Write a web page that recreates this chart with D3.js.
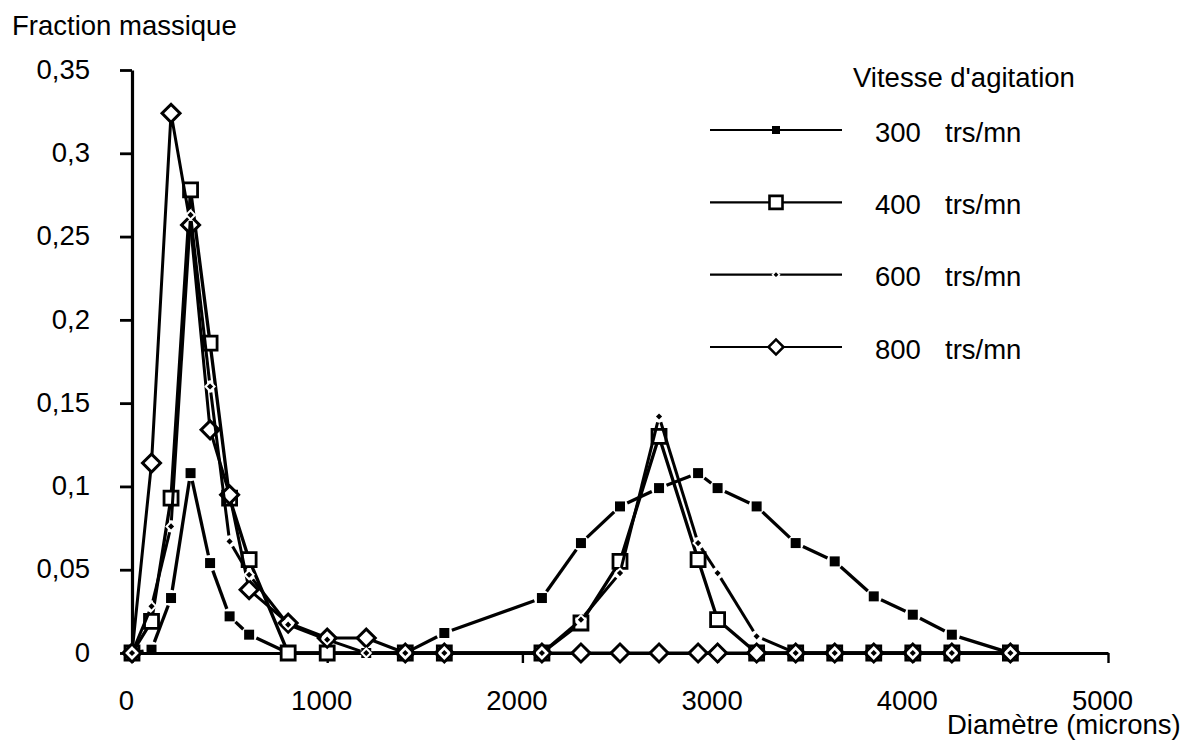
<!DOCTYPE html>
<html><head><meta charset="utf-8">
<script src="https://cdn.jsdelivr.net/npm/d3@7"></script>
<style>
body{margin:0;background:#fff}
svg{display:block}
text{font-family:"Liberation Sans",Arial,Helvetica,sans-serif;fill:#000}
</style>
</head><body>
<svg id="c" width="1188" height="744"></svg>
<script>
// ---- data ----
const diameters = [0,100,200,300,400,500,600,800,1000,1200,1400,1600,2100,2300,2500,2700,2900,3000,3200,3400,3600,3800,4000,4200,4500];
const frac300 = [0,0.002,0.033,0.108,0.054,0.022,0.011,0,0,0,0,0.012,0.033,0.066,0.088,0.099,0.108,0.099,0.088,0.066,0.055,0.034,0.023,0.011,0];
const frac400 = [0,0.019,0.093,0.278,0.186,0.093,0.056,0,0,null,0,0,0,0.018,0.055,0.130,0.056,0.020,0,0,0,0,0,0,0];
const frac600 = [0,0.028,0.076,0.263,0.160,0.067,0.047,0.017,0.008,0,0,0,0,0.020,0.048,0.142,0.066,0.048,0.010,0,0,0,0,0,0];
const frac800 = [0,0.114,0.324,0.257,0.134,0.095,0.038,0.018,0.009,0.009,0,0,0,0,0,0,0,0,0,0,0,0,0,0,0];
const speeds = ["300","400","600","800"];
const unitLabel = "trs/mn";
const legendTitle = "Vitesse d'agitation";
const yTitle = "Fraction massique";
const xTitle = "Diamètre (microns)";
const xTickValues = [0,1000,2000,3000,4000,5000];
const yTickValues = [0,0.05,0.1,0.15,0.2,0.25,0.3,0.35];
const yTickLabels = ["0","0,05","0,1","0,15","0,2","0,25","0,3","0,35"];

// ---- styles ----
const FS = 27.5;
const styles = [
  {vals: frac300, marker: "sq",   w: 10, fill: "#000", stroke: "none", sw: 0,   gap: 8, lw: 3.3},
  {vals: frac400, marker: "sq",   w: 14, fill: "#fff", stroke: "#000", sw: 2.8, gap: 0, lw: 3.3},
  {vals: frac600, marker: "dia",  w: 9,  fill: "#000", stroke: "#fff", sw: 2,   gap: 6, lw: 3},
  {vals: frac800, marker: "dia",  w: 18, fill: "#fff", stroke: "#000", sw: 3,   gap: 0, lw: 3}
];
const drawOrder = [0,1,3,2];

const svg = d3.select("#c");
const x = d3.scaleLinear().domain([0,5000]).range([132,1108]);
const y = d3.scaleLinear().domain([0,0.35]).range([653,70]);

// axes
const gx = svg.append("g").attr("transform","translate(0,653)")
  .call(d3.axisBottom(x).tickValues(xTickValues).tickSize(10).tickSizeOuter(0).tickFormat(d3.format("d")));
gx.select(".domain").attr("stroke-width",2.8);
gx.selectAll(".tick line").attr("stroke-width",2.4);
gx.selectAll(".tick text").attr("y",57).attr("dy",0).attr("dx",-6)
  .attr("font-size",FS).attr("font-family",null).attr("fill","#000");

const gy = svg.append("g").attr("transform","translate(132,0)")
  .call(d3.axisLeft(y).tickValues(yTickValues).tickSize(12).tickSizeOuter(0).tickFormat((d,i)=>yTickLabels[i]));
gy.select(".domain").attr("stroke-width",3.2);
gy.selectAll(".tick line").attr("stroke-width",2.8);
gy.selectAll(".tick text").attr("x",-42).attr("dy","0.3em")
  .attr("font-size",FS).attr("font-family",null).attr("fill","#000");
svg.selectAll(".domain").attr("stroke","#000");

// titles
svg.append("text").attr("x",12).attr("y",35).attr("font-size",FS).text(yTitle);
svg.append("text").attr("x",947).attr("y",734).attr("font-size",FS).text(xTitle);

function markerPath(st){
  const side = st.marker === "sq" ? st.w : st.w/Math.SQRT2;
  return d3.symbol().type(d3.symbolSquare).size(side*side)();
}

// series
drawOrder.forEach(si => {
  const st = styles[si];
  const pts = diameters.map((d,i)=>({d, v: st.vals[i]})).filter(p => p.v !== null);
  const g = svg.append("g");
  if (st.gap === 0) {
    g.append("path").datum(pts)
      .attr("d", d3.line().x(p=>x(p.d)).y(p=>y(p.v)))
      .attr("fill","none").attr("stroke","#000").attr("stroke-width",st.lw)
      .attr("stroke-linejoin","round");
  } else {
    const segs = [];
    for (let i=0;i<pts.length-1;i++){
      const x0=x(pts[i].d), y0=y(pts[i].v), x1=x(pts[i+1].d), y1=y(pts[i+1].v);
      const L = Math.hypot(x1-x0,y1-y0);
      if (L <= 2*st.gap+1) continue;
      const ux=(x1-x0)/L, uy=(y1-y0)/L;
      segs.push([[x0+ux*st.gap, y0+uy*st.gap],[x1-ux*st.gap, y1-uy*st.gap]]);
    }
    g.selectAll("line").data(segs).join("line")
      .attr("x1",s=>s[0][0]).attr("y1",s=>s[0][1]).attr("x2",s=>s[1][0]).attr("y2",s=>s[1][1])
      .attr("stroke","#000").attr("stroke-width",st.lw);
  }
  g.selectAll(".m").data(pts).join("path").attr("class","m")
    .attr("d", markerPath(st))
    .attr("transform", p => `translate(${x(p.d)},${y(p.v)})` + (st.marker==="dia" ? " rotate(45)" : ""))
    .attr("fill", st.fill).attr("stroke", st.stroke).attr("stroke-width", st.sw);
});

// legend
svg.append("text").attr("x",853).attr("y",87).attr("font-size",FS).text(legendTitle);
const legendY = d3.scaleLinear().domain([0,3]).range([130,347]);
speeds.forEach((s,i) => {
  const st = styles[i];
  const ly = legendY(i);
  const g = svg.append("g");
  g.append("line").attr("x1",710).attr("x2",842).attr("y1",ly).attr("y2",ly)
    .attr("stroke","#000").attr("stroke-width",2.2);
  const lw = st.marker === "sq" ? (st.fill === "#000" ? 8 : 13) : (st.fill === "#000" ? 7 : 15);
  const side = st.marker === "sq" ? lw : lw/Math.SQRT2;
  g.append("path").attr("d", d3.symbol().type(d3.symbolSquare).size(side*side)())
    .attr("transform", `translate(776,${ly})` + (st.marker==="dia" ? " rotate(45)" : ""))
    .attr("fill", st.fill).attr("stroke", st.stroke === "#fff" ? "#fff" : st.stroke)
    .attr("stroke-width", st.stroke === "#fff" ? 1.5 : 2.6);
  g.append("text").attr("x",875).attr("y",ly+11.5).attr("font-size",FS).text(s);
  g.append("text").attr("x",945).attr("y",ly+11.5).attr("font-size",FS).text(unitLabel);
});
</script>
</body></html>
